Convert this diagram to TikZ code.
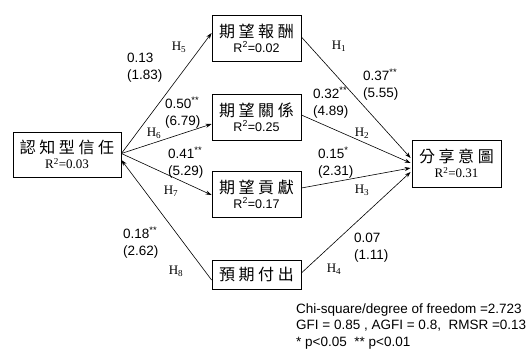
\documentclass[tikz,border=0pt]{standalone}
\usepackage{fontspec}
\usetikzlibrary{arrows.meta,calc}
\setmainfont{Liberation Serif}
\newfontfamily\arial{Liberation Sans}
\newfontfamily\cjk[LetterSpace=22]{Noto Sans CJK TC}

\tikzset{
  varbox/.style={draw, line width=0.8pt, inner sep=0pt, align=center,
    minimum width=89pt, minimum height=46pt},
  path/.style={line width=0.6pt, -{Stealth[length=6pt,width=4pt]}},
  coef/.style={font=\arial\fontsize{13.5}{17}\selectfont, align=left, anchor=west, inner sep=0pt},
  hyp/.style={font=\fontsize{13}{15}\selectfont, inner sep=0pt},
  note/.style={font=\arial\fontsize{13.5}{16.5}\selectfont, align=left, anchor=north west, inner sep=0pt}
}
\newcommand{\cj}[1]{{\fontsize{16}{18}\selectfont\cjk #1}}
\newcommand{\rsa}[1]{{\arial\fontsize{12.5}{14}\selectfont R\textsuperscript{2}=#1}}
\newcommand{\rsr}[1]{{\fontsize{13}{14}\selectfont R\textsuperscript{2}=#1}}

\begin{document}
\begin{tikzpicture}[x=1pt,y=-1pt]
\useasboundingbox (0,0) rectangle (528,351);

% variables
\node[varbox, minimum width=108pt, minimum height=45pt] (trust) at (67,154.5)
  {\cj{認知型信任}\\[2.5pt]\rsr{0.03}};
\node[varbox] (reward)  at (256.5,38)  {\cj{期望報酬}\\[3pt]\rsa{0.02}};
\node[varbox] (relation) at (256.5,117) {\cj{期望關係}\\[3pt]\rsa{0.25}};
\node[varbox] (contrib) at (256.5,194) {\cj{期望貢獻}\\[3pt]\rsa{0.17}};
\node[varbox, minimum height=29pt] (cost) at (256.5,274.5) {\cj{預期付出}};
\node[varbox, minimum height=47pt] (share) at (456.5,163.5)
  {\cj{分享意圖}\\[2.5pt]\rsr{0.31}};

% paths from trust
\draw[path] ([yshift=1pt]trust.east) -- ([yshift=5pt]reward.west);
\draw[path] ([yshift=1pt]trust.east) -- ([yshift=-7pt]relation.west);
\draw[path] ([yshift=1pt]trust.east) -- ([yshift=-1pt]contrib.west);
\draw[path] ([yshift=-5.5pt]cost.west) -- ([yshift=-5.5pt]trust.east);

% paths into sharing intention
\draw[path] ([yshift=1pt]reward.east) -- ([xshift=-1pt,yshift=5.5pt]share.west);
\draw[path] ([yshift=2pt]relation.east) -- ([xshift=-1pt,yshift=0.5pt]share.west);
\draw[path] ([yshift=6pt]contrib.east) -- ([xshift=-1pt,yshift=-4.5pt]share.west);
\draw[path] ([yshift=1.5pt]cost.east) -- ([xshift=-1pt,yshift=-8.5pt]share.west);

% hypothesis labels
\node[hyp] (h5) at (179,47)  {H\textsubscript{5}};
\node[hyp] (h6) at (154,133) {H\textsubscript{6}};
\node[hyp] (h7) at (171,191) {H\textsubscript{7}};
\node[hyp] (h8) at (176,271) {H\textsubscript{8}};
\node[hyp] (h1) at (339,46)  {H\textsubscript{1}};
\node[hyp] (h2) at (362,133) {H\textsubscript{2}};
\node[hyp] (h3) at (362,190) {H\textsubscript{3}};
\node[hyp] (h4) at (334,269) {H\textsubscript{4}};

% path coefficients (t values)
\node[coef] (c5) at (127,67.5)  {0.13\\(1.83)};
\node[coef] (c6) at (165,112.5) {0.50\textsuperscript{**}\\(6.79)};
\node[coef] (c7) at (168,162.5) {0.41\textsuperscript{**}\\(5.29)};
\node[coef] (c8) at (123,243)   {0.18\textsuperscript{**}\\(2.62)};
\node[coef] (c1) at (363,84.5)  {0.37\textsuperscript{**}\\(5.55)};
\node[coef] (c2) at (313,102.5) {0.32\textsuperscript{**}\\(4.89)};
\node[coef] (c3) at (318,162.5) {0.15\textsuperscript{*}\\(2.31)};
\node[coef] (c4) at (354,247.5) {0.07\\(1.11)};

% fit indices
\node[note] (fit) at (296,303.5) {Chi-square/degree of freedom =2.723\\
GFI = 0.85 , AGFI = 0.8,\ \ RMSR =0.13\\
* p<0.05\ \ ** p<0.01};
\end{tikzpicture}
\end{document}
